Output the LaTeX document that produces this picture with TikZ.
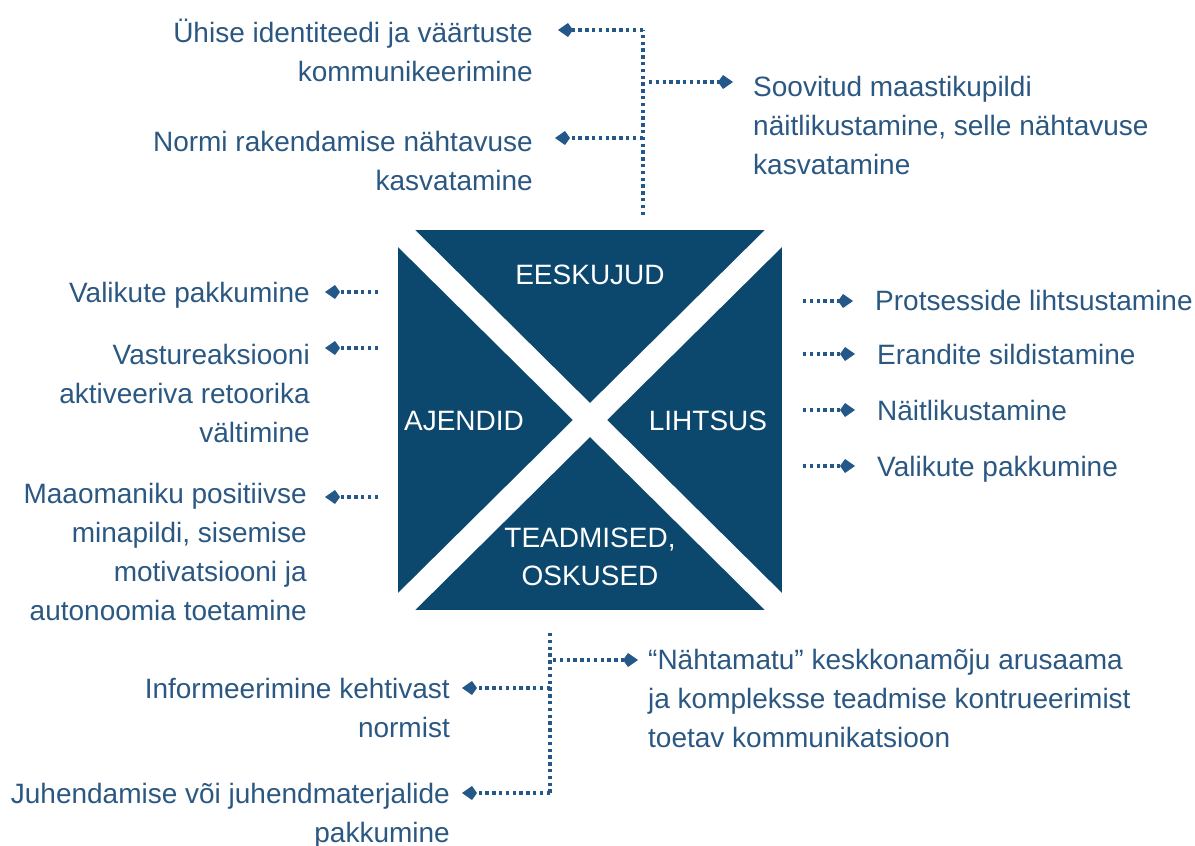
\documentclass[tikz,border=0pt]{standalone}
\usepackage{fontspec}
\setmainfont{Liberation Sans}
\usepackage{tikz}
\usetikzlibrary{arrows.meta,positioning,calc}
\definecolor{boxblue}{RGB}{12,72,110}
\definecolor{textblue}{RGB}{43,88,130}
\definecolor{arrowblue}{RGB}{36,88,136}
\tikzset{
>={Kite[length=15pt,width=14pt,inset=5pt]},
  itemL/.style={anchor=north east, align=right, inner sep=0pt, text=textblue, font=\fontsize{28}{39}\selectfont},
  itemR/.style={anchor=north west, align=left, inner sep=0pt, text=textblue, font=\fontsize{28}{39}\selectfont},
  corner/.style={text=white, inner sep=0pt, align=center, font=\fontsize{28}{38}\selectfont},
  dotline/.style={draw=arrowblue, line width=3.4pt, dash pattern=on 3.4pt off 3.4pt},
  lineR/.style={dotline, ->}
}

\begin{document}
\begin{tikzpicture}[x=1pt, y=-1pt]
    \useasboundingbox (0,0) rectangle (1195,846);
    % square with the cross
    \node [fill=boxblue, inner sep=0pt, minimum width=384pt, minimum height=380pt] (sq) at (590,420) {};
    \begin{scope}
        \clip (sq.south west) rectangle (sq.north east);
        \draw [white, line width=24pt] (sq.north west) -- (sq.south east) (sq.north east) -- (sq.south west);
    \end{scope}
    \node [corner, anchor=base] (eesk) at (590,284) {EESKUJUD};
    \node [corner, anchor=base] (ajend) at (464,430) {AJENDID};
    \node [corner, anchor=base] (liht) at (708,430) {LIHTSUS};
    \node [corner, anchor=north] (tead) at (590,547-26.6) {\strut TEADMISED,\\OSKUSED};
    % texts
    \node [itemL] (uhise) at (533,42-27.3) {\strut Ühise identiteedi ja väärtuste\\kommunikeerimine};
    \node [itemL] (normi) at (533,151-27.3) {\strut Normi rakendamise nähtavuse\\kasvatamine};
    \node [itemR] (soov) at (753,96-27.3) {\strut Soovitud maastikupildi\\näitlikustamine, selle nähtavuse\\kasvatamine};
    \node [itemL] (valik) at (310,302-27.3) {\strut Valikute pakkumine};
    \node [itemL] (vastu) at (310,364-27.3) {\strut Vastureaksiooni\\aktiveeriva retoorika\\vältimine};
    \node [itemL] (maao) at (307,503-27.3) {\strut Maaomaniku positiivse\\minapildi, sisemise\\motivatsiooni ja\\autonoomia toetamine};
    \node [itemR] (prots) at (875,310-27.3) {\strut Protsesside lihtsustamine};
    \node [itemR] (erand) at (877,364-27.3) {\strut Erandite sildistamine};
    \node [itemR] (naitl) at (877,420-27.3) {\strut Näitlikustamine};
    \node [itemR] (valikR) at (877,476-27.3) {\strut Valikute pakkumine};
    \node [itemR] (nahta) at (648,669-27.3) {\strut “Nähtamatu” keskkonamõju arusaama\\ja kompleksse teadmise kontrueerimist\\toetav kommunikatsioon};
    \node [itemL] (info) at (450,698-27.3) {\strut Informeerimine kehtivast\\normist};
    \node [itemL] (juhend) at (450,803-27.3) {\strut Juhendamise või juhendmaterjalide\\pakkumine};
    % upper connectors
    \coordinate (tstem) at (643,215);
    \coordinate (tj1) at (643,30);
    \coordinate (tj2) at (643,138);
    \coordinate (tj3) at (649,82);
    \draw [dotline] (tstem) -- (tj1);
    \draw [lineR] (tj1) -- ($(tj1 -| uhise.east)+(25,0)$);
    \draw [lineR] (tj2) -- ($(tj2 -| normi.east)+(22,0)$);
    \draw [lineR] (tj3) -- ($(tj3 -| soov.west)+(-20,0)$);
    % left connectors
    \coordinate (aL1) at (378,292);
    \coordinate (aL2) at (378,348);
    \coordinate (aL3) at (378,497);
    \draw [lineR] (aL1) -- ($(aL1 -| valik.east)+(15,0)$);
    \draw [lineR] (aL2) -- ($(aL2 -| vastu.east)+(15,0)$);
    \draw [lineR] (aL3) -- ($(aL3 -| maao.east)+(18,0)$);
    % right connectors
    \coordinate (aR1) at (803,301);
    \coordinate (aR2) at (803,354);
    \coordinate (aR3) at (803,410);
    \coordinate (aR4) at (803,466);
    \draw [lineR] (aR1) -- ($(aR1 -| prots.west)+(-22,0)$);
    \draw [lineR] (aR2) -- ($(aR2 -| erand.west)+(-22,0)$);
    \draw [lineR] (aR3) -- ($(aR3 -| naitl.west)+(-22,0)$);
    \draw [lineR] (aR4) -- ($(aR4 -| valikR.west)+(-22,0)$);
    % lower connectors
    \coordinate (bstem) at (550,633);
    \coordinate (bj1) at (553,660);
    \coordinate (bj2) at (550,688);
    \coordinate (bj3) at (550,793);
    \draw [dotline] (bstem) -- (bj3);
    \draw [lineR] (bj1) -- ($(bj1 -| nahta.west)+(-10,0)$);
    \draw [lineR] (bj2) -- ($(bj2 -| info.east)+(12,0)$);
    \draw [lineR] (bj3) -- ($(bj3 -| juhend.east)+(12,0)$);
\end{tikzpicture}
\end{document}
